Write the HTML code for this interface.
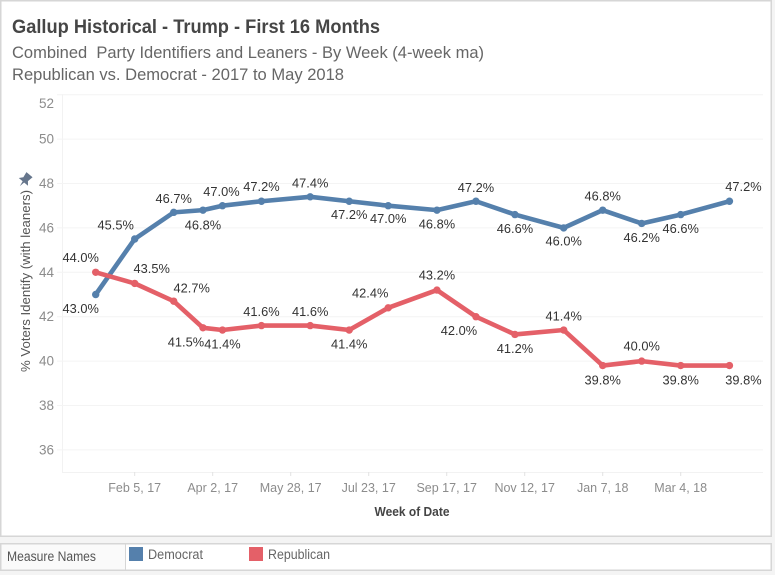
<!DOCTYPE html>
<html>
<head>
<meta charset="utf-8">
<title>Gallup Historical - Trump - First 16 Months</title>
<style>
html,body{margin:0;padding:0;background:#f4f4f4;}
body{width:775px;height:575px;overflow:hidden;position:relative;font-family:"Liberation Sans",Arial,sans-serif;}
svg{position:absolute;left:0;top:0;display:block;}
text{font-family:"Liberation Sans",Arial,sans-serif;}
</style>
</head>
<body>
<svg id="chart" width="775" height="575" viewBox="0 0 775 575" xmlns="http://www.w3.org/2000/svg">
  <rect x="0.75" y="0.75" width="770.5" height="535.5" fill="#ffffff" stroke="#d6d6d6" stroke-width="1.5"/>
  <text x="12" y="33" font-size="19.5" font-weight="700" fill="#464646" textLength="368" lengthAdjust="spacingAndGlyphs">Gallup Historical - Trump - First 16 Months</text>
  <text x="12" y="58" font-size="17" fill="#666666" textLength="472" lengthAdjust="spacingAndGlyphs" xml:space="preserve">Combined  Party Identifiers and Leaners - By Week (4-week ma)</text>
  <text x="12" y="80" font-size="17" fill="#666666" textLength="332" lengthAdjust="spacingAndGlyphs">Republican vs. Democrat - 2017 to May 2018</text>

  <g id="grid"></g>
  <g id="yaxis"></g>
  <g id="xaxis"></g>

  <g transform="translate(25,180) rotate(40)">
    <path d="M-4,-7 L4,-7 L3,-1 L6,2.5 L-6,2.5 L-3,-1 Z M-1,2.5 L1,2.5 L0,8 Z" fill="#66768c"/>
  </g>
  <text transform="translate(30,372) rotate(-90)" font-size="13" fill="#555555" textLength="182" lengthAdjust="spacingAndGlyphs">% Voters Identify (with leaners)</text>
  <text x="412" y="516" font-size="13" font-weight="700" fill="#444444" text-anchor="middle" textLength="75" lengthAdjust="spacingAndGlyphs">Week of Date</text>

  <g id="series"></g>

  <rect x="0.75" y="543.75" width="770.5" height="26.5" fill="#ffffff" stroke="#d6d6d6" stroke-width="1.5"/>
  <rect x="1.5" y="544.5" width="124" height="25" fill="#fafafa"/>
  <line x1="125.5" y1="544" x2="125.5" y2="570" stroke="#d6d6d6" stroke-width="1"/>
  <text x="7" y="561" font-size="13.5" fill="#555555" textLength="89" lengthAdjust="spacingAndGlyphs">Measure Names</text>
  <g>
    <rect x="129" y="547" width="14" height="14" fill="#5580ac"/>
    <text x="148" y="559" font-size="13.5" fill="#666666" textLength="55" lengthAdjust="spacingAndGlyphs">Democrat</text>
  </g>
  <g>
    <rect x="249" y="547" width="14" height="14" fill="#e46068"/>
    <text x="268" y="559" font-size="13.5" fill="#666666" textLength="62" lengthAdjust="spacingAndGlyphs">Republican</text>
  </g>
</svg>
<script>
// Data
const weekDates = ["2017-01-08","2017-02-05","2017-03-05","2017-03-26","2017-04-09","2017-05-07","2017-06-11","2017-07-09","2017-08-06","2017-09-10","2017-10-08","2017-11-05","2017-12-10","2018-01-07","2018-02-04","2018-03-04","2018-04-08"];
const democrat = [43.0,45.5,46.7,46.8,47.0,47.2,47.4,47.2,47.0,46.8,47.2,46.6,46.0,46.8,46.2,46.6,47.2];
const republican = [44.0,43.5,42.7,41.5,41.4,41.6,41.6,41.4,42.4,43.2,42.0,41.2,41.4,39.8,40.0,39.8,39.8];
const yTicks = [36,38,40,42,44,46,48,50,52];
const xTickDates = ["2017-02-05","2017-04-02","2017-05-28","2017-07-23","2017-09-17","2017-11-12","2018-01-07","2018-03-04"];
const xTickLabels = ["Feb 5, 17","Apr 2, 17","May 28, 17","Jul 23, 17","Sep 17, 17","Nov 12, 17","Jan 7, 18","Mar 4, 18"];

// Label nudges relative to each point
const demNudgeX = [-15,-19,0,0,-1,0,0,0,0,0,0,0,0,0,0,0,14];
const demNudgeY = [14,-14,-14,15,-14,-15,-14,13,13,14,-14,14,13,-14,14,14,-15];
const repNudgeX = [-15,17,18,-17,0,0,0,0,-18,0,-17,0,0,0,0,0,14];
const repNudgeY = [-15,-15,-13,14,14,-14,-14,14,-15,-15,14,14,-14,14.5,-15,14.5,14.5];

const NS = "http://www.w3.org/2000/svg";
const plotLeft = 62, plotRight = 763, plotTop = 94, plotBottom = 472;
const msPerWeek = 7 * 24 * 3600 * 1000;
const xOriginDate = Date.parse("2017-02-05");

function xScale(dateText) {
  return 134.7 + (Date.parse(dateText) - xOriginDate) / msPerWeek * 9.75;
}
function yScale(value) {
  return 183.5 - (value - 48) * 22.2;
}
function make(tag, attrs, parent) {
  const el = document.createElementNS(NS, tag);
  for (const k in attrs) el.setAttribute(k, attrs[k]);
  parent.appendChild(el);
  return el;
}

const grid = document.getElementById("grid");
const yaxis = document.getElementById("yaxis");
const xaxis = document.getElementById("xaxis");
const seriesLayer = document.getElementById("series");

make("line", {x1: plotLeft + 0.5, y1: plotTop, x2: plotLeft + 0.5, y2: plotBottom + 1, stroke: "#f2f2f2", "stroke-width": 1}, grid);
make("line", {x1: plotLeft, y1: plotBottom + 0.5, x2: plotRight, y2: plotBottom + 0.5, stroke: "#f2f2f2", "stroke-width": 1}, grid);

yTicks.forEach(function (t) {
  const y = yScale(t);
  const line = make("line", {x1: 57, y1: y, x2: plotRight, y2: y, stroke: "#f4f4f4", "stroke-width": 1}, grid);
  
  
  const labelY = Math.max(y + 4.5, 108);
  const label = make("text", {x: 54, y: labelY, "text-anchor": "end", "font-size": 13.5, fill: "#8c8c8c"}, yaxis);
  
  
  label.textContent = t;
});

xTickDates.forEach(function (d, i) {
  const x = xScale(d);
  const tick = make("line", {x1: x, y1: plotBottom, x2: x, y2: plotBottom + 4, stroke: "#e2e2e2", "stroke-width": 1}, xaxis);
  
  
  const label = make("text", {x: x, y: 492, "text-anchor": "middle", "font-size": 12.5, fill: "#8c8c8c"}, xaxis);
  
  
  label.textContent = xTickLabels[i];
});

function drawSeries(name, values, color, nudgeX, nudgeY) {
  const group = make("g", {}, seriesLayer);
  
  
  const pts = values.map(function (v, i) { return xScale(weekDates[i]) + "," + yScale(v); }).join(" ");
  const line = make("polyline", {points: pts, fill: "none", stroke: color, "stroke-width": 4.6, "stroke-linejoin": "round", "stroke-linecap": "round"}, group);
  
  
  values.forEach(function (v, i) {
    const cx = xScale(weekDates[i]), cy = yScale(v);
    const dot = make("circle", {cx: cx, cy: cy, r: 3.7, fill: color}, group);
    
    
    const label = make("text", {x: cx + nudgeX[i], y: cy + nudgeY[i] + 4.5, "text-anchor": "middle", "font-size": 12.8, fill: "#333333"}, group);
    
    
    label.textContent = v.toFixed(1) + "%";
  });
}

drawSeries("democrat", democrat, "#5580ac", demNudgeX, demNudgeY);
drawSeries("republican", republican, "#e46068", repNudgeX, repNudgeY);
</script>
</body>
</html>
